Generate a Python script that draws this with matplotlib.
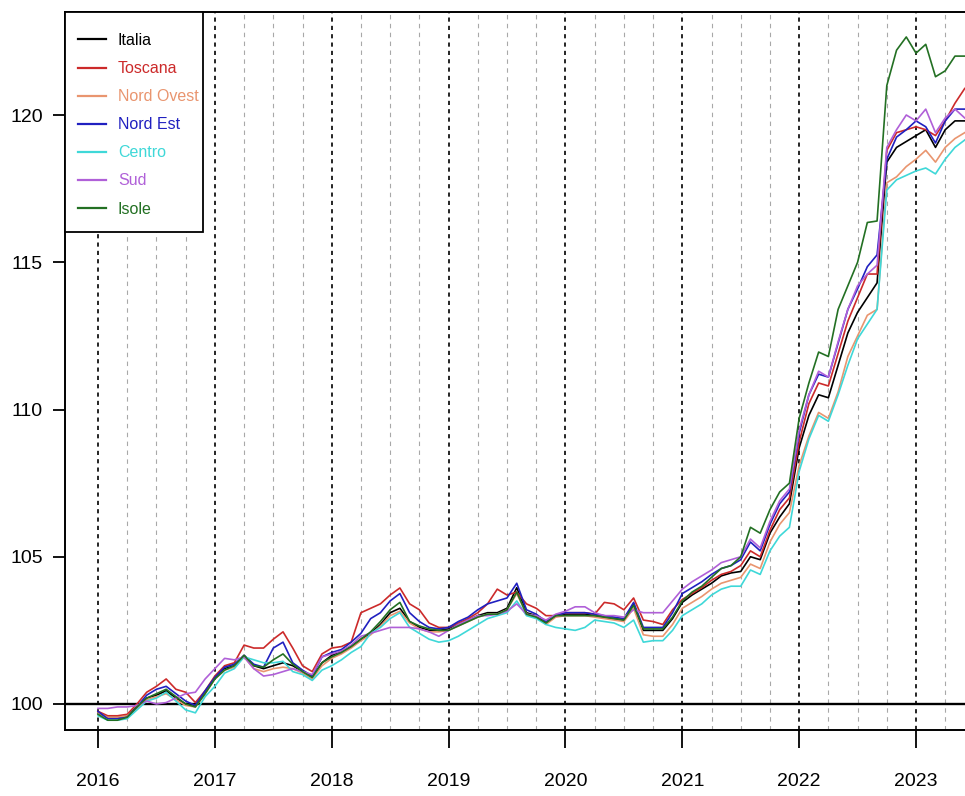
import numpy as np
import matplotlib
matplotlib.use('Agg')
import matplotlib.pyplot as plt
from matplotlib.patches import Rectangle

plt.rcParams['font.family'] = ['Liberation Sans', 'DejaVu Sans']

# monthly index values, Jan 2016 - Jun 2023
italia = [99.7, 99.55, 99.55, 99.6, 99.9, 100.2, 100.3, 100.45, 100.2, 100.0, 99.95, 100.4,
          100.9, 101.2, 101.3, 101.65, 101.3, 101.2, 101.3, 101.4, 101.3, 101.1, 100.9, 101.4,
          101.65, 101.8, 101.95, 102.2, 102.4, 102.7, 103.1, 103.25, 102.8, 102.6, 102.5, 102.5,
          102.55, 102.7, 102.85, 103.0, 103.1, 103.1, 103.25, 103.95, 103.1, 103.0, 102.75, 103.0,
          103.05, 103.05, 103.05, 103.0, 102.95, 102.9, 102.85, 103.4, 102.5, 102.5, 102.5, 102.9,
          103.45, 103.7, 103.9, 104.1, 104.35, 104.45, 104.5, 105.0, 104.9, 105.8, 106.35, 106.8,
          108.7, 109.8, 110.5, 110.4, 111.5, 112.6, 113.3, 113.8, 114.3, 118.4, 118.9, 119.1,
          119.3, 119.5, 118.9, 119.5, 119.8, 119.8]
toscana = [99.75, 99.6, 99.6, 99.65, 100.0, 100.4, 100.6, 100.85, 100.5, 100.4, 100.05, 100.45,
           100.95, 101.3, 101.4, 102.0, 101.9, 101.9, 102.2, 102.45, 101.9, 101.3, 101.1, 101.7,
           101.9, 101.95, 102.1, 103.1, 103.25, 103.4, 103.7, 103.94, 103.4, 103.2, 102.75, 102.6,
           102.6, 102.75, 102.9, 103.1, 103.4, 103.9, 103.7, 103.8, 103.4, 103.25, 103.0, 103.0,
           103.1, 103.1, 103.1, 103.05, 103.45, 103.4, 103.2, 103.6, 102.85, 102.8, 102.7, 103.2,
           103.55, 103.75, 103.95, 104.2, 104.4, 104.5, 104.7, 105.2, 105.0, 105.9, 106.6, 107.0,
           108.9, 110.2, 110.9, 110.8, 111.9, 113.0, 113.8, 114.6, 114.6, 118.8, 119.4, 119.5,
           119.6, 119.5, 119.3, 119.8, 120.4, 120.9]
nord_ovest = [99.7, 99.55, 99.55, 99.6, 99.85, 100.15, 100.25, 100.35, 100.15, 99.95, 99.9, 100.35,
              100.85, 101.15, 101.25, 101.6, 101.2, 101.1, 101.2, 101.25, 101.2, 101.05, 100.85, 101.3,
              101.55, 101.7, 101.9, 102.15, 102.35, 102.65, 103.0, 103.15, 102.75, 102.55, 102.45, 102.45,
              102.5, 102.65, 102.8, 102.95, 103.05, 103.05, 103.2, 103.75, 103.05, 102.95, 102.7, 102.95,
              103.0, 103.0, 103.0, 102.95, 102.9, 102.85, 102.8, 103.25, 102.35, 102.3, 102.3, 102.7,
              103.25, 103.45, 103.65, 103.9, 104.1, 104.2, 104.3, 104.75, 104.6, 105.5, 106.1, 106.5,
              108.1, 109.1, 109.9, 109.7, 110.6, 111.8, 112.5, 113.2, 113.4, 117.7, 117.9, 118.25,
              118.5, 118.8, 118.4, 118.9, 119.2, 119.4]
nord_est = [99.75, 99.5, 99.5, 99.55, 99.9, 100.3, 100.5, 100.6, 100.35, 100.1, 99.95, 100.45,
            100.9, 101.25, 101.35, 101.65, 101.35, 101.25, 101.9, 102.1, 101.4, 101.15, 100.95, 101.6,
            101.75, 101.85, 102.1, 102.4, 102.9, 103.1, 103.5, 103.75, 103.1, 102.8, 102.6, 102.55,
            102.6, 102.8, 102.95, 103.2, 103.4, 103.5, 103.6, 104.1, 103.2, 103.05, 102.8, 103.0,
            103.1, 103.1, 103.1, 103.05, 103.0, 102.95, 102.9, 103.45, 102.6, 102.6, 102.6, 103.1,
            103.75, 103.95, 104.15, 104.4, 104.6, 104.7, 104.9, 105.5, 105.2, 106.1, 106.8, 107.2,
            109.2, 110.5, 111.2, 111.1, 112.25, 113.4, 114.1, 114.85, 115.25, 118.5, 119.25, 119.5,
            119.8, 119.6, 119.05, 119.8, 120.2, 120.2]
centro = [99.6, 99.45, 99.45, 99.5, 99.8, 100.1, 100.2, 100.4, 100.1, 99.8, 99.7, 100.25,
          100.6, 101.05, 101.2, 101.6, 101.5, 101.4, 101.4, 101.45, 101.1, 101.0, 100.8, 101.15,
          101.3, 101.5, 101.75, 101.95, 102.4, 102.6, 102.9, 103.1, 102.6, 102.4, 102.2, 102.1,
          102.15, 102.3, 102.5, 102.7, 102.9, 103.0, 103.1, 103.5, 103.0, 102.9, 102.7, 102.6,
          102.55, 102.5, 102.6, 102.85, 102.8, 102.75, 102.6, 102.85, 102.1, 102.15, 102.15, 102.5,
          103.0, 103.2, 103.4, 103.7, 103.9, 104.0, 104.0, 104.55, 104.4, 105.2, 105.7, 106.0,
          107.9, 109.0, 109.8, 109.6, 110.5, 111.5, 112.4, 112.9, 113.4, 117.45, 117.8, 117.95,
          118.1, 118.2, 118.0, 118.5, 118.9, 119.15]
sud = [99.85, 99.85, 99.9, 99.9, 99.95, 100.1, 100.0, 100.05, 100.2, 100.35, 100.4, 100.85,
       101.2, 101.55, 101.5, 101.6, 101.2, 100.95, 101.0, 101.1, 101.2, 101.1, 101.0, 101.6,
       101.7, 101.8, 102.0, 102.3, 102.4, 102.5, 102.6, 102.6, 102.6, 102.55, 102.45, 102.3,
       102.5, 102.7, 102.85, 103.0, 103.0, 103.05, 103.15, 103.4, 103.05, 103.0, 102.85, 103.05,
       103.15, 103.3, 103.3, 103.1, 103.0, 103.0, 102.95, 103.2, 103.1, 103.1, 103.1, 103.5,
       103.9, 104.15, 104.35, 104.55, 104.8, 104.9, 105.0, 105.6, 105.3, 106.2, 106.9, 107.3,
       109.3, 110.5, 111.3, 111.1, 112.3, 113.4, 114.2, 114.6, 114.9, 118.9, 119.5, 120.0,
       119.8, 120.2, 119.4, 119.9, 120.2, 119.9]
isole = [99.65, 99.45, 99.45, 99.55, 99.9, 100.2, 100.35, 100.5, 100.25, 100.0, 99.9, 100.35,
         100.85, 101.15, 101.3, 101.65, 101.3, 101.25, 101.5, 101.7, 101.35, 101.1, 100.9, 101.4,
         101.6, 101.75, 101.95, 102.2, 102.45, 102.8, 103.2, 103.45, 102.8, 102.65, 102.55, 102.5,
         102.5, 102.65, 102.8, 102.95, 103.05, 103.05, 103.2, 103.8, 103.05, 102.95, 102.75, 103.0,
         103.0, 103.0, 103.0, 103.0, 102.95, 102.9, 102.85, 103.35, 102.55, 102.55, 102.55, 102.95,
         103.5, 103.8, 104.0, 104.3, 104.6, 104.7, 105.0, 106.0, 105.8, 106.6, 107.2, 107.5,
         109.7, 110.9, 111.95, 111.8, 113.4, 114.2, 115.0, 116.35, 116.4, 121.0, 122.2, 122.65,
         122.1, 122.4, 121.3, 121.5, 122.0, 122.0]

names = ['Italia', 'Toscana', 'Nord Ovest', 'Nord Est', 'Centro', 'Sud', 'Isole']
series = [italia, toscana, nord_ovest, nord_est, centro, sud, isole]
colors = ['black', '#cc2a2a', '#e9956f', '#2020c0', '#3fd8d8', '#b060d8', '#237023']
years = [2016, 2017, 2018, 2019, 2020, 2021, 2022, 2023]
y_ticks = [100, 105, 110, 115, 120]

t = 2016 + np.arange(len(italia)) / 12

fig = plt.figure(figsize=(9.65, 7.96), dpi=100)
# plot box: left 65px, top 12px, bottom 730px, right edge cut off by the image
ax = fig.add_axes([65 / 965, 66 / 796, 920 / 965, 718 / 796])

# grid: dashed black at years, dashed grey at quarters
for yr in years:
    ax.axvline(yr, color='black', linestyle=(0, (2.5, 2.5)), lw=1.2, zorder=1)
    for q in (0.25, 0.5, 0.75):
        ax.axvline(yr + q, color='#a8a8a8', linestyle=(0, (4, 4)), lw=0.8, zorder=1)
ax.axhline(100, color='black', lw=1.7, zorder=2)

for name, vals, col in zip(names, series, colors):
    ax.plot(t, vals, color=col, lw=1.2, label=name, zorder=3)

ax.set_xlim(2016 - 33 / 116.86, 2016 + 887 / 116.86)
ax.set_ylim(100 - 26 / 29.45, 100 + 692 / 29.45)

ax.set_xticks(years)
ax.set_xticklabels([str(y) for y in years])
ax.set_yticks(y_ticks)
ax.tick_params(axis='x', length=13, width=1.3, pad=18, labelsize=14)
ax.tick_params(axis='y', length=9, width=1.3, pad=7, labelsize=14)
for s in ax.spines.values():
    s.set_linewidth(1.4)

# legend box drawn separately so the padding matches the original
ax.add_patch(Rectangle((0, 1 - 220 / 718), 138 / 920, 220 / 718, transform=ax.transAxes,
                       facecolor='white', edgecolor='black', lw=1.3, zorder=4, clip_on=False))
leg = ax.legend(loc='upper left', bbox_to_anchor=(13 / 920, 1 - 21 / 718), borderaxespad=0,
                frameon=False, fontsize=11.5, labelcolor='linecolor', handlelength=1.75,
                handletextpad=0.75, labelspacing=0.82, borderpad=0)
leg.set_zorder(5)
for line in leg.get_lines():
    line.set_linewidth(1.6)

fig.savefig('out.png', dpi=100)
